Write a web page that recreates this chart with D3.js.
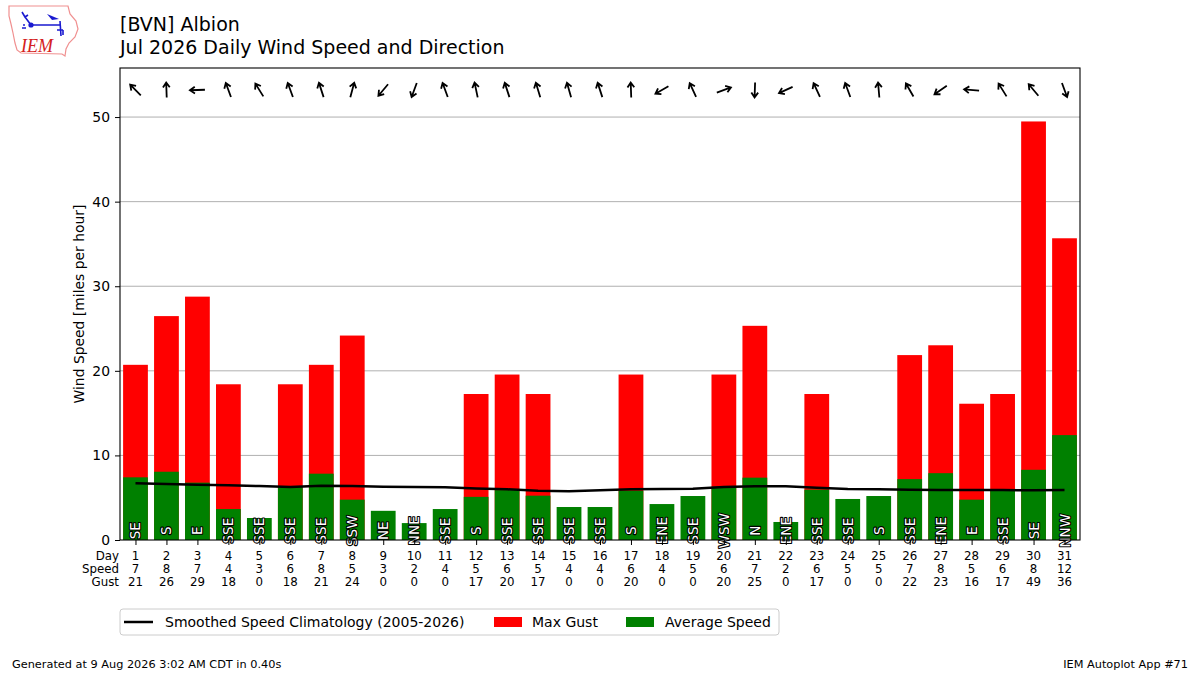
<!DOCTYPE html>
<html>
<head>
<meta charset="utf-8">
<script src="https://cdn.jsdelivr.net/npm/d3@7"></script>
<style>
    body { margin: 0; background: #fff; }
    svg text { font-family: "DejaVu Sans", sans-serif; }
</style>
</head>
<body>
<div id="chart"></div>
<script>
// daily values
const days = [1, 2, 3, 4, 5, 6, 7, 8, 9, 10, 11, 12, 13, 14, 15, 16, 17, 18, 19, 20, 21, 22, 23, 24, 25, 26, 27, 28, 29, 30, 31];
const directions = ["SE", "S", "E", "SSE", "SSE", "SSE", "SSE", "SSW", "NE", "NNE", "SSE", "S", "SSE", "SSE", "SSE", "SSE",
    "S", "ENE", "SSE", "WSW", "N", "ENE", "SSE", "SSE", "S", "SSE", "ENE", "E", "SSE", "SE", "NNW"];
const directionDeg = [135, 178, 88, 160, 148, 160, 162, 195, 40, 20, 160, 168, 162, 163, 164, 162,
    178, 60, 155, 250, 2, 65, 155, 160, 175, 150, 55, 95, 148, 140, 340];
const avgSpeed = [7.41, 8.07, 6.78, 3.66, 2.6, 6.3, 7.84, 4.77, 3.45, 2.0, 3.66, 5.1, 5.9, 5.24, 3.9, 3.9,
    5.83, 4.25, 5.2, 6.3, 7.37, 2.13, 5.95, 4.85, 5.2, 7.2, 7.9, 4.77, 6.0, 8.3, 12.4];
const maxGust = [20.71, 26.47, 28.77, 18.41, 0, 18.41, 20.71, 24.17, 0, 0, 0, 17.26, 19.56, 17.26, 0, 0,
    19.56, 0, 0, 19.56, 25.32, 0, 17.26, 0, 0, 21.86, 23.02, 16.11, 17.26, 49.48, 35.67];
const climoSpeed = [6.7, 6.62, 6.54, 6.46, 6.38, 6.26, 6.42, 6.38, 6.3, 6.26, 6.23, 6.1, 6.0, 5.83, 5.75, 5.87,
    6.0, 6.03, 6.07, 6.26, 6.35, 6.35, 6.19, 6.03, 6.0, 5.95, 5.9, 5.9, 5.9, 5.87, 5.9];
const yTicks = [0, 10, 20, 30, 40, 50];
const rowLabels = ["Day", "Speed", "Gust"];
const legendLabels = ["Smoothed Speed Climatology (2005-2026)", "Max Gust", "Average Speed"];


class WindVis {
    constructor(_parentElement) {
        this.parentElement = _parentElement;
        this.initVis();
    }

    initVis() {
        let vis = this;

        vis.margin = {top: 68, right: 120, bottom: 135, left: 120};
        vis.width = 1200 - vis.margin.left - vis.margin.right;
        vis.height = 675 - vis.margin.top - vis.margin.bottom;

        vis.root = d3.select("#" + vis.parentElement).append("svg")
            .attr("width", 1200)
            .attr("height", 675);

        vis.svg = vis.root.append("g")
            .attr("transform", "translate(" + vis.margin.left + "," + vis.margin.top + ")");

        vis.x = d3.scaleLinear().domain([0.5, 31.5]).range([0, vis.width]);
        vis.y = d3.scaleLinear().domain([0, 55.8]).range([vis.height, 0]);

        // titles
        vis.root.append("text").attr("x", 120).attr("y", 31)
            .style("font-size", "19px").text("[BVN] Albion");
        vis.root.append("text").attr("x", 120).attr("y", 54)
            .style("font-size", "19px").text("Jul 2026 Daily Wind Speed and Direction");

        vis.drawLogo();

        // y label
        vis.root.append("text")
            .attr("transform", "translate(84," + (vis.margin.top + vis.height / 2) + ") rotate(-90)")
            .attr("text-anchor", "middle")
            .style("font-size", "13.9px")
            .text("Wind Speed [miles per hour]");

        // footer
        vis.root.append("text").attr("x", 12).attr("y", 668)
            .style("font-size", "11.3px").text("Generated at 9 Aug 2026 3:02 AM CDT in 0.40s");
        vis.root.append("text").attr("x", 1188).attr("y", 668)
            .attr("text-anchor", "end")
            .style("font-size", "11.3px").text("IEM Autoplot App #71");

        vis.wrangleData();
    }

    drawLogo() {
        let vis = this;
        let logo = vis.root.append("g").attr("class", "logo");

        logo.append("path")
            .attr("d", "M9,6 L68,6 L70,14 L76,21 L78,29 L75,37 L69,43 L66,49 L65,56 L62,54 L21,53 L17,50 L15,43 L13,33 L11,24 L9,16 Z")
            .attr("fill", "none")
            .attr("stroke", "#f09090")
            .attr("stroke-width", 1.2);

        let blue = "#1a1ad0";
        logo.append("path").attr("d", "M22,12 L25,17 L28,15 M25,17 L31,25 M31,25 L60,25 M60,21 L61,36 M57,30 L63,30 M63,30 L63,35")
            .attr("fill", "none").attr("stroke", blue).attr("stroke-width", 1.6);
        logo.append("circle").attr("cx", 31).attr("cy", 25).attr("r", 2.6).attr("fill", blue);
        logo.append("path").attr("d", "M47,14 L59,19 L52,20 Z").attr("fill", blue);
        logo.append("circle").attr("cx", 24).attr("cy", 25).attr("r", 1).attr("fill", blue);
        logo.append("circle").attr("cx", 25).attr("cy", 28).attr("r", 1).attr("fill", blue);
        logo.append("circle").attr("cx", 23).attr("cy", 28).attr("r", 1).attr("fill", blue);

        logo.append("text").attr("x", 21).attr("y", 52)
            .style("font-family", "'Liberation Serif', serif")
            .style("font-style", "italic")
            .style("font-size", "18px")
            .attr("fill", "#d42020")
            .text("IEM");
    }

    wrangleData() {
        let vis = this;

        vis.displayData = days.map((d, i) => ({
            day: d,
            dir: directions[i],
            deg: directionDeg[i],
            avg: avgSpeed[i],
            gust: maxGust[i],
            climo: climoSpeed[i]
        }));

        vis.updateVis();
    }

    updateVis() {
        let vis = this;
        let barW = vis.x(0.8) - vis.x(0);

        // grid
        vis.svg.append("g").selectAll("line")
            .data(yTicks.filter(t => t > 0))
            .enter().append("line")
            .attr("x1", 0).attr("x2", vis.width)
            .attr("y1", d => vis.y(d)).attr("y2", d => vis.y(d))
            .attr("stroke", "#b0b0b0").attr("stroke-width", 1);

        // gust bars, then average bars on top
        vis.svg.append("g").selectAll("rect")
            .data(vis.displayData)
            .enter().append("rect")
            .attr("x", d => vis.x(d.day) - barW / 2)
            .attr("y", d => vis.y(d.gust))
            .attr("width", barW)
            .attr("height", d => vis.y(0) - vis.y(d.gust))
            .attr("fill", "#ff0000");

        vis.svg.append("g").selectAll("rect")
            .data(vis.displayData)
            .enter().append("rect")
            .attr("x", d => vis.x(d.day) - barW / 2)
            .attr("y", d => vis.y(d.avg))
            .attr("width", barW)
            .attr("height", d => vis.y(0) - vis.y(d.avg))
            .attr("fill", "#008000");

        // climatology
        let line = d3.line().x(d => vis.x(d.day)).y(d => vis.y(d.climo));
        vis.svg.append("path")
            .datum(vis.displayData)
            .attr("d", line)
            .attr("fill", "none")
            .attr("stroke", "#000")
            .attr("stroke-width", 2.5);

        // direction names inside the bars
        vis.svg.append("g").selectAll("text")
            .data(vis.displayData)
            .enter().append("text")
            .attr("transform", d => "translate(" + vis.x(d.day) + "," + vis.y(1.1) + ") rotate(-90)")
            .attr("text-anchor", "middle")
            .attr("dominant-baseline", "central")
            .style("font-size", "13.6px")
            .style("paint-order", "stroke")
            .attr("fill", "#fff")
            .attr("stroke", "#000")
            .attr("stroke-width", 2.2)
            .attr("stroke-linejoin", "round")
            .text(d => d.dir);

        // arrows showing where the wind blows to
        let arrowY = vis.y(53.2);
        let len = 15, head = 6;
        vis.svg.append("g").selectAll("path")
            .data(vis.displayData)
            .enter().append("path")
            .attr("d", d => {
                let b = (d.deg + 180) * Math.PI / 180;
                let cx = vis.x(d.day);
                let ux = Math.sin(b), uy = -Math.cos(b);
                let tx = cx + ux * len / 2, ty = arrowY + uy * len / 2;
                let sx = cx - ux * len / 2, sy = arrowY - uy * len / 2;
                let a1 = b + Math.PI - 0.6, a2 = b + Math.PI + 0.6;
                return "M" + sx + "," + sy + "L" + tx + "," + ty +
                    "M" + (tx + Math.sin(a1) * head) + "," + (ty - Math.cos(a1) * head) +
                    "L" + tx + "," + ty +
                    "L" + (tx + Math.sin(a2) * head) + "," + (ty - Math.cos(a2) * head);
            })
            .attr("fill", "none")
            .attr("stroke", "#000")
            .attr("stroke-width", 1.8);

        // axes
        let yAxis = d3.axisLeft(vis.y).tickValues(yTicks).tickSize(5).tickPadding(5);
        let yg = vis.svg.append("g").call(yAxis);
        yg.select(".domain").remove();
        yg.selectAll("text").style("font-size", "13.9px").style("font-family", "'DejaVu Sans', sans-serif");

        let xAxis = d3.axisBottom(vis.x).tickValues(days).tickSize(5).tickFormat("");
        let xg = vis.svg.append("g").attr("transform", "translate(0," + vis.height + ")").call(xAxis);
        xg.select(".domain").remove();

        // table below the axis
        let table = vis.svg.append("g").attr("transform", "translate(0," + vis.height + ")");
        let rows = [d => d.day, d => Math.round(d.avg), d => Math.round(d.gust)];
        rows.forEach((fn, r) => {
            table.append("g").selectAll("text")
                .data(vis.displayData)
                .enter().append("text")
                .attr("x", d => vis.x(d.day))
                .attr("y", 19.5 + r * 13.4)
                .attr("text-anchor", "middle")
                .style("font-size", "11.8px")
                .text(fn);
            table.append("text")
                .attr("x", -1).attr("y", 19.5 + r * 13.4)
                .attr("text-anchor", "end")
                .style("font-size", "11.8px")
                .text(rowLabels[r]);
        });

        // frame
        vis.svg.append("rect")
            .attr("width", vis.width).attr("height", vis.height)
            .attr("fill", "none").attr("stroke", "#000").attr("stroke-width", 1.1);

        vis.drawLegend();
    }

    drawLegend() {
        let vis = this;
        let lg = vis.root.append("g").attr("transform", "translate(120,609)");

        lg.append("rect")
            .attr("width", 659).attr("height", 26).attr("rx", 3)
            .attr("fill", "#fff").attr("stroke", "#cccccc").attr("stroke-width", 1);

        lg.append("line").attr("x1", 4).attr("x2", 33).attr("y1", 13).attr("y2", 13)
            .attr("stroke", "#000").attr("stroke-width", 2.5);
        lg.append("rect").attr("x", 374).attr("y", 8).attr("width", 28).attr("height", 10).attr("fill", "#ff0000");
        lg.append("rect").attr("x", 506).attr("y", 8).attr("width", 28).attr("height", 10).attr("fill", "#008000");

        let textX = [45, 412, 545];
        lg.selectAll(".ltxt")
            .data(legendLabels)
            .enter().append("text")
            .attr("class", "ltxt")
            .attr("x", (d, i) => textX[i])
            .attr("y", 18)
            .style("font-size", "14px")
            .text(d => d);
    }
}

new WindVis("chart");
</script>
</body>
</html>
